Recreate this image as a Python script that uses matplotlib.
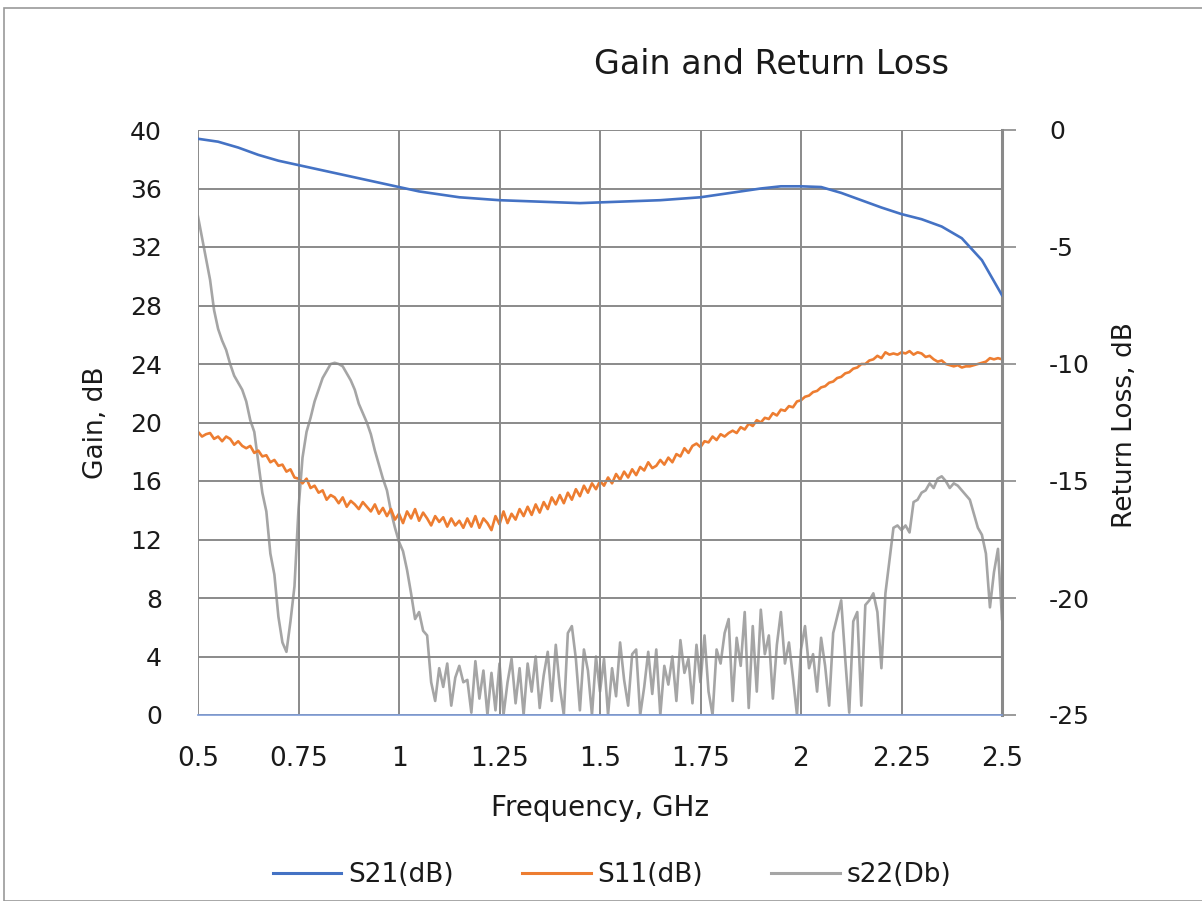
import numpy as np
import matplotlib
matplotlib.use("Agg")
import matplotlib.pyplot as plt
from matplotlib.patches import Rectangle
from matplotlib.lines import Line2D

# ---------------- data ----------------
# S21 gain (dB, left axis) sampled every 0.05 GHz from 0.5 to 2.5
s21_freq = [0.50, 0.55, 0.60, 0.65, 0.70, 0.75, 0.80, 0.85, 0.90, 0.95,
            1.00, 1.05, 1.10, 1.15, 1.20, 1.25, 1.30, 1.35, 1.40, 1.45,
            1.50, 1.55, 1.60, 1.65, 1.70, 1.75, 1.80, 1.85, 1.90, 1.95,
            2.00, 2.05, 2.10, 2.15, 2.20, 2.25, 2.30, 2.35, 2.40, 2.45, 2.50]
s21_gain = [39.4, 39.2, 38.8, 38.3, 37.9, 37.6, 37.3, 37.0, 36.7, 36.4,
            36.1, 35.8, 35.6, 35.4, 35.3, 35.2, 35.15, 35.1, 35.05, 35.0,
            35.05, 35.1, 35.15, 35.2, 35.3, 35.4, 35.6, 35.8, 36.0, 36.15,
            36.15, 36.1, 35.7, 35.2, 34.7, 34.25, 33.9, 33.4, 32.6, 31.1, 28.7]

# S11 and S22 (dB, right axis) sampled every 0.01 GHz from 0.50 to 2.50
rl_freq = [round(0.5 + 0.01 * i, 2) for i in range(201)]

s11_db = [
    -12.9, -13.1, -13.0, -12.95, -13.2, -13.1, -13.3, -13.1, -13.2, -13.45,
    -13.3, -13.5, -13.6, -13.5, -13.8, -13.7, -13.95, -13.9, -14.2, -14.1,
    -14.35, -14.3, -14.6, -14.5, -14.85, -14.9, -15.1, -14.9, -15.3, -15.2,
    -15.5, -15.4, -15.8, -15.6, -15.7, -15.95, -15.7, -16.1, -15.85, -16.0,
    -16.2, -15.9, -16.1, -16.3, -16.0, -16.4, -16.15, -16.5, -16.2, -16.65,
    -16.4, -16.8, -16.3, -16.6, -16.2, -16.7, -16.35, -16.6, -16.9, -16.5,
    -16.75, -16.55, -16.95, -16.6, -16.9, -16.7, -17.0, -16.6, -16.95, -16.5,
    -17.0, -16.6, -16.8, -17.1, -16.5, -16.85, -16.3, -16.8, -16.4, -16.65,
    -16.2, -16.5, -16.1, -16.45, -16.0, -16.35, -15.9, -16.2, -15.7, -16.0,
    -15.6, -15.95, -15.5, -15.8, -15.35, -15.65, -15.2, -15.5, -15.1, -15.35,
    -15.0, -15.2, -14.85, -15.1, -14.7, -14.95, -14.6, -14.85, -14.5, -14.75,
    -14.4, -14.55, -14.2, -14.45, -14.35, -14.1, -14.3, -14.0, -14.2, -13.85,
    -13.95, -13.6, -13.8, -13.5, -13.4, -13.55, -13.3, -13.35, -13.1, -13.25,
    -13.0, -13.1, -12.95, -12.85, -12.95, -12.7, -12.8, -12.55, -12.65, -12.4,
    -12.5, -12.3, -12.35, -12.1, -12.2, -11.95, -12.0, -11.8, -11.85, -11.6,
    -11.55, -11.4, -11.35, -11.2, -11.15, -11.0, -10.95, -10.8, -10.75, -10.6,
    -10.55, -10.4, -10.35, -10.2, -10.15, -10.0, -10.0, -9.85, -9.8, -9.65,
    -9.75, -9.5, -9.6, -9.55, -9.6, -9.5, -9.55, -9.45, -9.6, -9.5,
    -9.55, -9.7, -9.65, -9.8, -9.9, -9.85, -10.0, -10.05, -10.1, -10.05,
    -10.15, -10.1, -10.1, -10.05, -10.0, -9.95, -9.9, -9.75, -9.8, -9.75,
    -9.8]

s22_db = [
    -3.7, -4.6, -5.5, -6.4, -7.7, -8.5, -9.0, -9.4, -10.0, -10.5,
    -10.8, -11.1, -11.6, -12.4, -12.9, -14.2, -15.5, -16.3, -18.1, -19.0,
    -20.8, -21.9, -22.3, -21.0, -19.5, -16.2, -14.0, -12.9, -12.3, -11.6,
    -11.1, -10.6, -10.3, -10.0, -9.95, -10.0, -10.1, -10.4, -10.7, -11.1,
    -11.7, -12.1, -12.5, -13.0, -13.7, -14.3, -14.9, -15.4, -16.3, -17.0,
    -17.6, -18.0, -18.8, -19.8, -20.9, -20.6, -21.4, -21.6, -23.6, -24.4,
    -23.0, -23.8, -22.8, -24.6, -23.4, -22.9, -23.6, -23.5, -24.9, -22.7,
    -24.3, -23.1, -25.0, -23.2, -24.8, -22.8, -25.0, -23.6, -22.6, -24.5,
    -23.0, -25.0, -22.8, -24.0, -22.5, -24.7, -23.3, -22.3, -24.4, -22.0,
    -23.8, -25.0, -21.5, -21.2, -22.6, -24.8, -22.2, -23.1, -25.0, -22.5,
    -24.0,
    -22.6, -25.0, -23.0, -24.2, -21.9, -23.5, -24.6, -22.4, -22.2, -25.0,
    -23.8, -22.3, -24.1, -22.2, -25.0, -22.9, -23.7, -22.5, -24.4, -21.8,
    -23.2, -22.6, -24.5, -22.0, -23.6, -21.6, -24.0, -25.0, -22.2, -22.8,
    -21.5, -20.9, -24.4, -21.7, -22.9, -20.6, -24.7, -21.2, -24.0, -20.5,
    -22.4, -21.6, -24.3, -22.0, -20.6, -22.8, -21.9, -23.4, -25.0, -22.2,
    -21.2, -23.0, -22.4, -24.0, -21.7, -22.9, -24.6, -21.5, -20.8, -20.1,
    -22.6, -24.9, -21.0, -20.6, -24.6, -20.3, -20.1, -19.8, -20.6, -23.0,
    -19.8, -18.4, -17.0, -16.9, -17.1, -16.9, -17.2, -15.9, -15.8, -15.5,
    -15.4, -15.1, -15.3, -14.9, -14.8, -15.0, -15.3, -15.1, -15.2, -15.4,
    -15.6, -15.8, -16.4, -17.0, -17.3, -18.1, -20.4, -18.9, -17.9, -20.9]

x_ticks = [0.5, 0.75, 1.0, 1.25, 1.5, 1.75, 2.0, 2.25, 2.5]
x_tick_labels = ["0.5", "0.75", "1", "1.25", "1.5", "1.75", "2", "2.25", "2.5"]
gain_ticks = [0, 4, 8, 12, 16, 20, 24, 28, 32, 36, 40]
rl_ticks = [-25, -20, -15, -10, -5, 0]

title = "Gain and Return Loss"
xlabel = "Frequency, GHz"
ylabel_left = "Gain, dB"
ylabel_right = "Return Loss, dB"
series_names = ["S21(dB)", "S11(dB)", "s22(Db)"]

# ---------------- styling ----------------
C_S21 = "#4472C4"
C_S11 = "#ED7D31"
C_S22 = "#A5A5A5"
GRID = "#8a8a8a"
TXT = "#1a1a1a"
FONT = "DejaVu Sans"
plt.rcParams["font.family"] = [FONT]
plt.rcParams["axes.unicode_minus"] = False

W, H = 1202, 901
fig = plt.figure(figsize=(W / 100, H / 100), dpi=100)
fig.patch.set_facecolor("white")

# outer chart border
fig.add_artist(Rectangle((4 / W, 0), 1.2, 1 - 8 / H, transform=fig.transFigure,
                         fill=False, edgecolor="#9a9a9a", linewidth=1.2))

l, r, t, b = 198 / W, 1002 / W, 130 / H, 715 / H
ax = fig.add_axes([l, 1 - b, r - l, b - t])
ax2 = ax.twinx()

ax.set_xlim(0.5, 2.5)
ax.set_ylim(0, 40)
ax2.set_ylim(-25, 0)

ax.set_xticks(x_ticks)
ax.set_xticklabels(x_tick_labels)
ax.set_yticks(gain_ticks)
ax2.set_yticks(rl_ticks)

ax.grid(True, color=GRID, linewidth=1.4)
ax.set_axisbelow(True)

for sp in ["top", "left", "right"]:
    ax.spines[sp].set_visible(False)
    ax2.spines[sp].set_visible(False)
ax.spines["bottom"].set_color("#7d9bd6")
ax.spines["bottom"].set_linewidth(1.2)
ax2.spines["bottom"].set_visible(False)
ax2.spines["right"].set_visible(True)
ax2.spines["right"].set_color("#8a8a8a")
ax2.spines["right"].set_linewidth(2.2)

ax.tick_params(axis="x", length=0, pad=22, labelsize=19, labelcolor=TXT)
ax.tick_params(axis="y", length=0, pad=26, labelsize=18, labelcolor=TXT)
ax2.tick_params(axis="y", length=10, width=1.2, color=GRID, pad=24,
                labelsize=18, labelcolor=TXT)

ax.plot(s21_freq, s21_gain, color=C_S21, linewidth=1.9, zorder=3)
ax2.plot(rl_freq, s11_db, color=C_S11, linewidth=1.9, zorder=3)
ax2.plot(rl_freq, s22_db, color=C_S22, linewidth=1.9, zorder=2)

ax.set_zorder(ax2.get_zorder() + 1)
ax.patch.set_visible(False)

fig.text(771 / W, 1 - 65 / H, title, ha="center", va="center",
         fontsize=24, color=TXT)
fig.text(600 / W, 1 - 808 / H, xlabel, ha="center", va="center",
         fontsize=20, color=TXT)
fig.text(96 / W, 1 - 423 / H, ylabel_left, ha="center", va="center",
         rotation=90, fontsize=19, color=TXT)
fig.text(1125 / W, 1 - 425 / H, ylabel_right, ha="center", va="center",
         rotation=90, fontsize=19, color=TXT)

handles = [Line2D([], [], color=c, linewidth=2.2) for c in (C_S21, C_S11, C_S22)]
fig.legend(handles, series_names, loc="center", bbox_to_anchor=(612 / W, 1 - 875 / H),
           ncol=3, frameon=False, fontsize=19, handlelength=2.6, columnspacing=2.6,
           handletextpad=0.25, labelcolor=TXT)

fig.savefig("out.png", dpi=100, facecolor="white")
